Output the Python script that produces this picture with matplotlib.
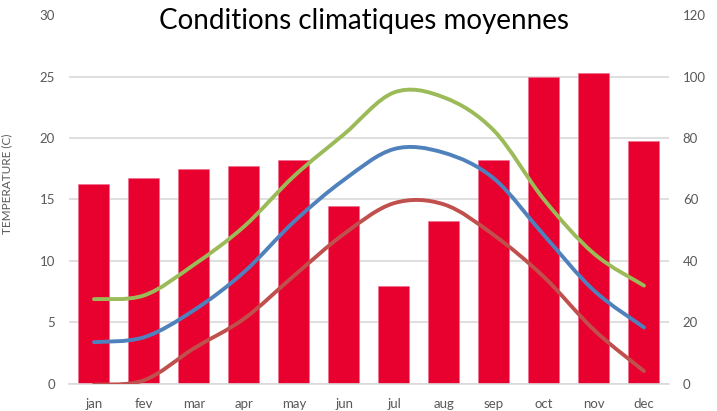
import matplotlib
matplotlib.use("Agg")
from matplotlib import pyplot as plt
from matplotlib.path import Path
from matplotlib.patches import PathPatch

plt.rcParams['font.family'] = ['Lato', 'DejaVu Sans']

# données
mois = ["jan", "fev", "mar", "apr", "may", "jun", "jul", "aug", "sep", "oct", "nov", "dec"]
precip = [65, 67, 70, 71, 73, 58, 32, 53, 73, 100, 101, 79]
t_max = [6.9, 7.2, 9.7, 12.8, 16.9, 20.3, 23.7, 23.3, 20.6, 15.0, 10.6, 8.0]
t_moy = [3.4, 3.8, 6.0, 9.1, 13.2, 16.6, 19.1, 18.8, 16.7, 12.1, 7.6, 4.6]
t_min = [-0.05, 0.3, 2.9, 5.3, 8.8, 12.2, 14.7, 14.6, 12.1, 8.7, 4.4, 1.05]

gris = "#595959"


def courbe_lisse(ax, xs, ys, couleur):
    # courbe lissée façon Excel (bezier catmull-rom)
    n = len(xs)
    pts = list(zip(xs, ys))
    verts = [pts[0]]
    codes = [Path.MOVETO]
    for i in range(n - 1):
        p0 = pts[i - 1] if i > 0 else pts[i]
        p1 = pts[i]
        p2 = pts[i + 1]
        p3 = pts[i + 2] if i + 2 < n else pts[i + 1]
        c1 = (p1[0] + (p2[0] - p0[0]) / 6, p1[1] + (p2[1] - p0[1]) / 6)
        c2 = (p2[0] - (p3[0] - p1[0]) / 6, p2[1] - (p3[1] - p1[1]) / 6)
        verts += [c1, c2, p2]
        codes += [Path.CURVE4] * 3
    patch = PathPatch(Path(verts, codes), facecolor="none", edgecolor=couleur,
                      lw=2.8, capstyle="round", zorder=3)
    ax.add_patch(patch)


fig = plt.figure(figsize=(7.17, 4.11), dpi=100)
ax2 = fig.add_axes([0.0962, 0.0657, 0.8368, 0.8978])
ax = ax2.twinx()
ax2.yaxis.tick_right()
ax.yaxis.tick_left()

x = list(range(len(mois)))

# barres (axe de droite)
ax2.bar(x, precip, width=0.62, color="#E8002F", edgecolor="#F07090", linewidth=0.5, zorder=2)
ax2.set_ylim(0, 120)
ax2.set_yticks(range(0, 121, 20))
ax2.grid(axis="y", color="#D9D9D9", linewidth=1.2, zorder=0)
ax2.set_axisbelow(True)
ax2.get_ygridlines()[-1].set_visible(False)

# courbes (axe de gauche)
courbe_lisse(ax, x, t_max, "#9BBB59")
courbe_lisse(ax, x, t_moy, "#4F81BD")
courbe_lisse(ax, x, t_min, "#C0504D")
ax.set_ylim(0, 30)
ax.set_yticks(range(0, 31, 5))
ax.set_xlim(-0.5, len(mois) - 0.5)
ax2.set_xlim(-0.5, len(mois) - 0.5)

ax.set_zorder(ax2.get_zorder() + 1)
ax.patch.set_visible(False)

for a in (ax, ax2):
    for s in a.spines.values():
        s.set_visible(False)
    a.tick_params(length=0, labelsize=9.5, labelcolor=gris)
ax.tick_params(axis="y", pad=10)
ax2.tick_params(axis="y", pad=10)
ax2.spines["bottom"].set_visible(True)
ax2.spines["bottom"].set_color("#D9D9D9")
ax2.spines["bottom"].set_linewidth(1.2)

ax2.set_xticks(x)
ax2.set_xticklabels(mois)
ax2.tick_params(axis="x", pad=10)

fig.text(0.009, 0.552, "TEMPERATURE (C)", rotation=90, ha="center", va="center",
         fontsize=8.5, color=gris)
fig.text(0.507, 0.95, "Conditions climatiques moyennes", ha="center", va="center",
         fontsize=20, color="black")

plt.savefig("out.png", dpi=100)
